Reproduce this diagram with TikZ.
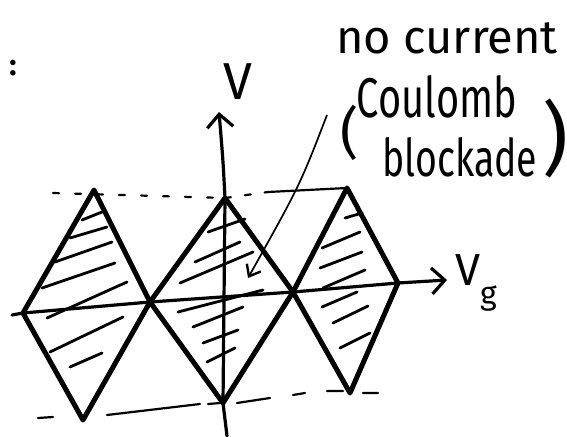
\documentclass[tikz,border=0pt]{standalone}
\usepackage{fontspec}
\setmainfont{Fira Sans}
\usetikzlibrary{arrows.meta}
\begin{document}
\begin{tikzpicture}[x=1pt,y=-1pt,
  edge/.style={line width=5pt, line join=round, line cap=round},
  axisline/.style={line width=3.2pt, line cap=round, line join=round},
  hatch/.style={line width=2.8pt, line cap=round},
  guide/.style={line width=2.2pt, line cap=round},
  lbl/.style={inner sep=0pt, text=black},
  barb/.style={-{Straight Barb[length=13pt,width=26pt,line width=3.2pt]}},
  pointer/.style={line width=1.7pt, -{Straight Barb[length=10pt,width=16pt,line width=2.4pt]}}
]
\useasboundingbox (0,0) rectangle (567,436);
% vertices
\coordinate (T1) at (94,190);
\coordinate (L1) at (23,313);
\coordinate (M1) at (150,302);
\coordinate (B1) at (83,420);
\coordinate (T2) at (225,198);
\coordinate (M2) at (293,292);
\coordinate (B2) at (223,403);
\coordinate (T3) at (347,188);
\coordinate (R3) at (398,283);
\coordinate (B3) at (350,393);
\coordinate (hstart) at (12,315);
\coordinate (htip) at (447,280);
\coordinate (vstart) at (227,436);
\coordinate (vtip) at (219,112);
\coordinate (pstart) at (327,115);
\coordinate (ptip) at (248,278);

% hatching
\draw[hatch] (82,220)--(102,212) (70,238)--(107,227) (55,262)--(112,242)
  (42,288)--(115,263) (47,318)--(127,282) (50,352)--(123,317) (70,367)--(102,353);
\draw[hatch] (208,232)--(245,219) (195,262)--(240,242) (180,283)--(253,252)
  (178,312)--(263,290) (193,327)--(243,307) (203,343)--(238,330) (207,362)--(235,348);
\draw[hatch] (345,218)--(362,213) (322,248)--(360,232) (320,268)--(362,252)
  (323,288)--(365,270) (322,307)--(357,292) (333,323)--(368,306) (340,348)--(370,333);

% guide lines
\draw[guide, dash pattern=on 6pt off 16pt] (53,193) -- (T2);
\draw[guide, dash pattern=on 6pt off 14pt] (T2) -- (268,192);
\draw[guide] (268,192) -- (T3);
\draw[guide] (38,418)--(53,417) (107,415)--(200,404) (208,404)--(220,403)
  (237,403)--(270,398) (293,395)--(305,393) (327,391)--(343,391) (363,393)--(378,393);

% diamonds
\draw[edge] (T1) -- (M1) -- (B1) -- (L1) -- cycle;
\draw[edge] (T2) -- (M2) -- (B2) -- (M1) -- cycle;
\draw[edge] (T3) -- (R3) -- (B3) -- (M2) -- cycle;

% axes
\draw[axisline, barb] (hstart) -- (L1) -- (M1) -- (M2) -- (R3) -- (htip);
\draw[axisline, barb] (vstart) -- (B2) -- (T2) .. controls (223,160) .. (vtip);

% pointer
\draw[pointer] (pstart) .. controls (300,185) .. (ptip);

% labels
\node[lbl, font=\fontsize{30}{30}\selectfont\bfseries] (colon) at (13,68) {:};
\node[lbl, font=\fontsize{52}{52}\selectfont] (vlab) at (238,82) {V};
\node[lbl, anchor=west, font=\fontsize{45}{45}\selectfont] (vglab) at (455,283)
  {V\raisebox{-0.42em}{\fontsize{32}{32}\selectfont g}};
\node[lbl, font=\fontsize{47}{47}\selectfont] (nocur) at (447,38) {no current};
\node[lbl, font=\fontsize{56}{56}\selectfont] (lpar) at (350,133) {(};
\node[lbl, font=\fontsize{56}{56}\selectfont] (coul) at (437,97) {\scalebox{0.71}[1]{Coulomb}};
\node[lbl, font=\fontsize{52}{52}\selectfont] (block) at (460,157) {\scalebox{0.72}[1]{blockade}};
\node[lbl, font=\fontsize{80}{80}\selectfont] (rpar) at (555,138) {)};
\end{tikzpicture}
\end{document}
